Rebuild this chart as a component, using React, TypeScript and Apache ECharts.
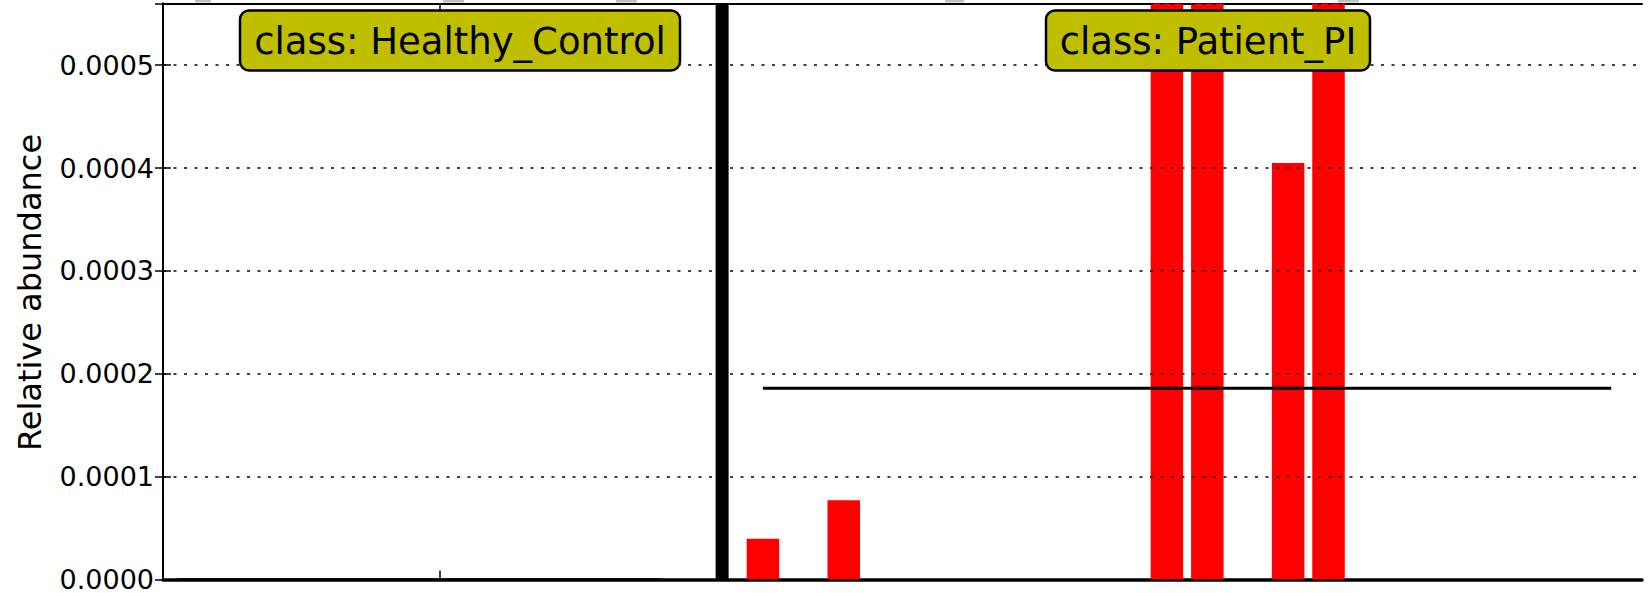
import React, { useEffect, useRef } from "react";
import * as echarts from "echarts";

// ---- data ----
const healthyLabel = "class: Healthy_Control";
const patientLabel = "class: Patient_PI";
const yAxisTitle = "Relative abundance";
const healthyValues = [0, 0, 0, 0, 0, 0, 0, 0, 0, 0, 0, 0, 0];
const patientValues = [
  0.0000395, 0, 0.000077, 0, 0, 0, 0, 0, 0, 0, 0.00142, 0.00098, 0, 0.000405,
  0.00117, 0, 0, 0, 0, 0, 0, 0,
];
const yTicks = [0, 0.0001, 0.0002, 0.0003, 0.0004, 0.0005];
const yMax = 0.00056;

// ---- layout (slot units on x) ----
const W = 1652;
const H = 593;
const gridLeft = 163;
const gridRight = 1642;
const gridTop = 3.5;
const gridBottom = 580;
const xMax = 36.61;
const healthyFirst = 0.35;
const patientFirst = 14.85;
const separatorX = 13.84;
const FONT = '"DejaVu Sans", "Liberation Sans", sans-serif';

export default function App() {
  const ref = useRef<HTMLDivElement>(null);
  useEffect(() => {
    if (!ref.current) return;
    const chart = echarts.init(ref.current, undefined, { renderer: "svg" });

    const hPts = healthyValues.map((v, i) => [healthyFirst + i, v]);
    const pPts = patientValues.map((v, i) => [patientFirst + i, v]);
    const mean = (a: number[]) => a.reduce((s, v) => s + v, 0) / a.length;
    const hMean = mean(healthyValues);
    const pMean = mean(patientValues);
    const hTick = healthyFirst + healthyValues.length / 2;
    const pTick = patientFirst + patientValues.length / 2;

    const xAxisBase = {
      type: "value",
      min: 0,
      max: xMax,
      splitLine: { show: false },
      axisLabel: { show: false },
      axisLine: { show: true, onZero: false, lineStyle: { color: "#000", width: 2 } },
      axisTick: {
        show: true,
        inside: true,
        length: 9,
        customValues: [hTick, pTick],
        lineStyle: { color: "#000", width: 1.5 },
      },
    };

    chart.setOption({
      animation: false,
      grid: {
        left: gridLeft,
        right: W - gridRight,
        top: gridTop,
        bottom: H - gridBottom,
        containLabel: false,
      },
      xAxis: [
        {
          ...xAxisBase,
          position: "bottom",
          axisLine: { ...xAxisBase.axisLine, lineStyle: { color: "#000", width: 3.5 } },
        },
        { ...xAxisBase, position: "top" },
      ],
      yAxis: [
        {
          type: "value",
          min: 0,
          max: yMax,
          interval: 0.0001,
          z: 5,
          position: "left",
          axisLine: { show: true, lineStyle: { color: "#000", width: 2 } },
          axisTick: { show: true, inside: true, length: 8, lineStyle: { color: "#000", width: 1.5 } },
          axisLabel: {
            showMaxLabel: false,
            margin: 9,
            color: "#000",
            fontSize: 27,
            lineHeight: 22,
            fontFamily: FONT,
            formatter: (v: number) =>
              yTicks.some((t) => Math.abs(t - v) < 1e-9) ? v.toFixed(4) : "",
          },
          splitLine: {
            show: true,
            lineStyle: { color: "#000", width: 1.5, type: [3, 7.5] },
          },
        },
        {
          type: "value",
          min: 0,
          max: yMax,
          interval: 0.0001,
          position: "right",
          z: 5,
          axisLine: { show: true, lineStyle: { color: "#000", width: 2 } },
          axisTick: { show: true, inside: true, length: 8, lineStyle: { color: "#000", width: 1.5 } },
          axisLabel: { show: false },
          splitLine: { show: false },
        },
      ],
      series: [
        {
          type: "bar",
          data: hPts,
          barWidth: 32.5,
          itemStyle: { color: "#ff0000" },
          clip: true,
          z: 2,
        },
        {
          type: "bar",
          data: pPts,
          barWidth: 32.5,
          barGap: "-100%",
          itemStyle: { color: "#ff0000" },
          clip: true,
          z: 2,
        },
        {
          type: "line",
          data: [
            [healthyFirst, hMean],
            [healthyFirst + healthyValues.length - 1, hMean],
          ],
          symbol: "none",
          lineStyle: { color: "#000", width: 2.5 },
          z: 3,
        },
        {
          type: "line",
          data: [
            [patientFirst, pMean],
            [patientFirst + patientValues.length - 1, pMean],
          ],
          symbol: "none",
          lineStyle: { color: "#000", width: 3 },
          z: 3,
        },
        {
          type: "line",
          data: [
            [separatorX, 0],
            [separatorX, yMax],
          ],
          symbol: "none",
          clip: false,
          lineStyle: { color: "#000", width: 13 },
          z: 4,
        },
      ],
      graphic: [
        // faint fragments at the very top edge
        { type: "rect", shape: { x: 195, y: 0, width: 16, height: 2.5 }, style: { fill: "#c0c0c0" }, z: 1 },
        { type: "rect", shape: { x: 443, y: 0, width: 21, height: 2.5 }, style: { fill: "#c0c0c0" }, z: 1 },
        { type: "rect", shape: { x: 616, y: 0, width: 21, height: 2.5 }, style: { fill: "#c0c0c0" }, z: 1 },
        { type: "rect", shape: { x: 945, y: 0, width: 19, height: 2.5 }, style: { fill: "#c0c0c0" }, z: 1 },
        { type: "rect", shape: { x: 1338, y: 0, width: 21, height: 2.5 }, style: { fill: "#c0c0c0" }, z: 1 },
        {
          type: "rect",
          shape: { x: 240, y: 10.5, width: 440, height: 60, r: 9 },
          style: { fill: "#bfbf00", stroke: "#000", lineWidth: 2.5 },
          z: 20,
        },
        {
          type: "text",
          x: 460,
          y: 41,
          style: {
            text: healthyLabel,
            fontSize: 37,
            fontFamily: FONT,
            fill: "#000",
            align: "center",
            verticalAlign: "middle",
          },
          z: 21,
        },
        {
          type: "rect",
          shape: { x: 1046, y: 10.5, width: 324, height: 60, r: 9 },
          style: { fill: "#bfbf00", stroke: "#000", lineWidth: 2.5 },
          z: 20,
        },
        {
          type: "text",
          x: 1208,
          y: 41,
          style: {
            text: patientLabel,
            fontSize: 37,
            fontFamily: FONT,
            fill: "#000",
            align: "center",
            verticalAlign: "middle",
          },
          z: 21,
        },
        {
          type: "text",
          x: 30,
          y: 292.5,
          rotation: Math.PI / 2,
          style: {
            text: yAxisTitle,
            fontSize: 32,
            fontFamily: FONT,
            fill: "#000",
            align: "center",
            verticalAlign: "middle",
          },
          z: 21,
        },
      ],
    });
    return () => chart.dispose();
  }, []);
  return (
    <div
      ref={ref}
      style={{ position: "absolute", left: 0, top: 0, width: W, height: H, background: "#fff" }}
    />
  );
}
